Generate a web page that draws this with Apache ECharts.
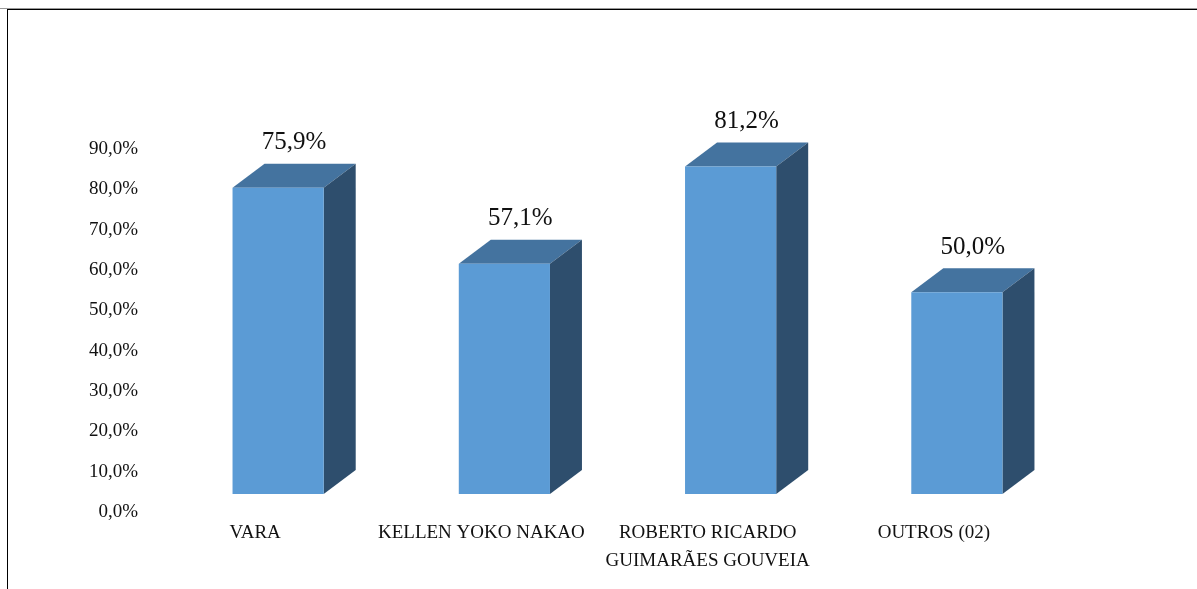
<!DOCTYPE html>
<html>
<head>
<meta charset="utf-8">
<style>html,body{margin:0;padding:0;background:#fff}#c{width:1197px;height:589px}</style>
<script src="https://cdn.jsdelivr.net/npm/echarts@6/dist/echarts.min.js"></script>
</head>
<body>
<div id="c"></div>
<script>
var categories = ['VARA', 'KELLEN YOKO NAKAO', 'ROBERTO RICARDO\nGUIMARÃES GOUVEIA', 'OUTROS (02)'];
var values = [75.9, 57.1, 81.2, 50.0];
var font = '"Liberation Serif","Times New Roman",serif';
var DX = 32, DY = 24;
function pct(v){ return v.toFixed(1).replace('.', ',') + '%'; }

var chart = echarts.init(document.getElementById('c'), null, {renderer:'canvas'});
chart.setOption({
  animation:false,
  backgroundColor:'#fff',
  graphic:[
    {type:'rect',silent:true,shape:{x:0,y:8,width:1197,height:1},style:{fill:'#999'}},
    {type:'rect',silent:true,shape:{x:7,y:9,width:1190,height:1},style:{fill:'#000'}},
    {type:'rect',silent:true,shape:{x:7,y:9,width:1,height:580},style:{fill:'#000'}}
  ],
  grid:[
    {left:165,width:905,top:131,height:363},
    {left:142,width:905,top:149,height:363}
  ],
  xAxis:[
    {type:'category',gridIndex:0,data:categories,show:false},
    {type:'category',gridIndex:1,data:categories,axisLine:{show:false},axisTick:{show:false},
     axisLabel:{interval:0,margin:7,fontFamily:font,fontSize:19,color:'#111',lineHeight:28,verticalAlign:'top'}}
  ],
  yAxis:[
    {type:'value',gridIndex:0,min:0,max:90,interval:10,show:false},
    {type:'value',gridIndex:1,min:0,max:90,interval:10,axisLine:{show:false},axisTick:{show:false},splitLine:{show:false},
     axisLabel:{margin:4,fontFamily:font,fontSize:19,color:'#111',formatter:function(v){return pct(v);}}}
  ],
  series:[{
    type:'custom',
    xAxisIndex:0,yAxisIndex:0,
    data:values.map(function(v,i){return [i,v];}),
    encode:{x:0,y:1},
    renderItem:function(params,api){
      var top=api.coord([api.value(0),api.value(1)]);
      var base=api.coord([api.value(0),0]);
      var w=api.size([1,0])[0]*0.403;
      var l=top[0]-w/2,r=top[0]+w/2,t=top[1],b=base[1];
      return {type:'group',children:[
        {type:'polygon',shape:{points:[[l,t],[r,t],[r+DX,t-DY],[l+DX,t-DY]]},style:{fill:'#44739F'}},
        {type:'polygon',shape:{points:[[r,t],[r+DX,t-DY],[r+DX,b-DY],[r,b]]},style:{fill:'#2E4E6D'}},
        {type:'rect',shape:{x:l,y:t,width:w,height:b-t},style:{fill:'#5B9BD5'}},
        {type:'text',style:{text:pct(api.value(1)),x:top[0]+16,y:t-DY-21,align:'center',verticalAlign:'middle',
          fontFamily:font,fontSize:25,fill:'#111'}}
      ]};
    }
  }]
});
</script>
</body>
</html>
